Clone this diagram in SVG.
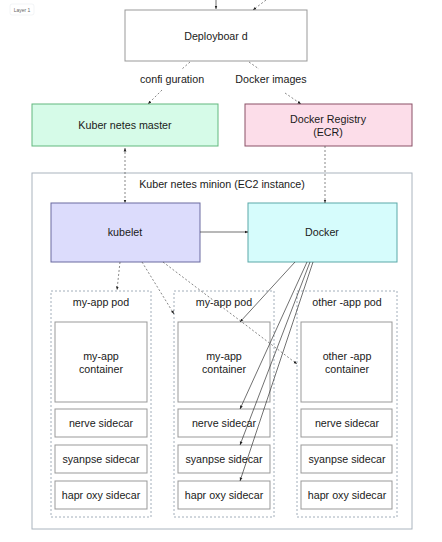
<svg xmlns="http://www.w3.org/2000/svg" width="442" height="542" viewBox="0 0 442 542">
<style>
text{font-family:"Liberation Sans",Arial,sans-serif;font-size:10.7px;fill:#1a1a1a;text-anchor:middle}
.box{fill:#fff;stroke:#999;stroke-width:1}
.pod{fill:none;stroke:#8a9aa8;stroke-width:0.8;stroke-dasharray:2,2}
.ln{fill:none;stroke:#333;stroke-width:0.7}
.dl{fill:none;stroke:#555;stroke-width:0.7;stroke-dasharray:2,2}
</style>
<defs>
<marker id="ah" viewBox="0 0 10 10" refX="10" refY="5" markerWidth="5" markerHeight="5" orient="auto-start-reverse"><path d="M0,1 L10,5 L0,9 z" fill="#222"/></marker>
</defs>
<rect width="442" height="542" fill="#fff"/>
<g id="layer-badge"><rect x="10" y="4" width="24" height="11" rx="2" fill="#fff" stroke="#e4e8ec" stroke-width="0.5"/><text x="22" y="12" style="font-size:5px;fill:#666">Layer 1</text></g>
<g id="deployboard"><rect class="box" x="125" y="10" width="182" height="51"/><text x="216" y="40">Deployboar d</text></g>
<g id="k8s-master"><rect x="32" y="104" width="186" height="42" fill="#d6fbe8" stroke="#62b87e"/><text x="125" y="129">Kuber netes master</text></g>
<g id="registry"><rect x="245" y="104" width="167" height="42" fill="#fcdde9" stroke="#8a5066"/><text x="328" y="123">Docker Registry</text><text x="328" y="136">(ECR)</text></g>
<g id="minion"><rect x="32" y="173" width="380" height="356" fill="#fff" stroke="#aab4be"/><text x="222" y="188">Kuber netes minion (EC2 instance)</text></g>
<g id="kubelet"><rect x="51" y="203" width="149" height="59" fill="#dcdcfc" stroke="#6a6aa0"/><text x="125" y="236">kubelet</text></g>
<g id="docker"><rect x="248" y="203" width="149" height="59" fill="#d6fcfc" stroke="#5aa8a8"/><text x="322" y="236">Docker</text></g>
<g id="pod1"><rect class="pod" x="51" y="291" width="100" height="226"/><text x="101" y="306">my-app pod</text>
<rect class="box" x="55" y="322" width="92" height="80"/><text x="101" y="360">my-app</text><text x="101" y="373">container</text>
<rect class="box" x="55" y="409" width="92" height="28"/><text x="101" y="427">nerve sidecar</text>
<rect class="box" x="55" y="445" width="92" height="28"/><text x="101" y="463">syanpse sidecar</text>
<rect class="box" x="55" y="481" width="92" height="28"/><text x="101" y="499">hapr oxy sidecar</text></g>
<g id="pod2"><rect class="pod" x="174" y="291" width="100" height="226"/><text x="224" y="306">my-app pod</text>
<rect class="box" x="178" y="322" width="92" height="80"/><text x="224" y="360">my-app</text><text x="224" y="373">container</text>
<rect class="box" x="178" y="409" width="92" height="28"/><text x="224" y="427">nerve sidecar</text>
<rect class="box" x="178" y="445" width="92" height="28"/><text x="224" y="463">syanpse sidecar</text>
<rect class="box" x="178" y="481" width="92" height="28"/><text x="224" y="499">hapr oxy sidecar</text></g>
<g id="pod3"><rect class="pod" x="297" y="291" width="100" height="226"/><text x="347" y="306">other -app pod</text>
<rect class="box" x="301" y="322" width="91" height="80"/><text x="347" y="360">other -app</text><text x="347" y="373">container</text>
<rect class="box" x="301" y="409" width="91" height="28"/><text x="347" y="427">nerve sidecar</text>
<rect class="box" x="301" y="445" width="91" height="28"/><text x="347" y="463">syanpse sidecar</text>
<rect class="box" x="301" y="481" width="91" height="28"/><text x="347" y="499">hapr oxy sidecar</text></g>
<g id="connectors">
<line class="ln" x1="216" y1="0" x2="216" y2="9" marker-end="url(#ah)"/>
<line class="dl" x1="266" y1="0" x2="253" y2="10" marker-end="url(#ah)"/>
<line class="dl" x1="190" y1="62" x2="182" y2="69"/>
<text x="172" y="83">confi guration</text>
<line class="dl" x1="162" y1="90" x2="148" y2="104" marker-end="url(#ah)"/>
<line class="dl" x1="249" y1="62" x2="259" y2="69"/>
<text x="271" y="83">Docker images</text>
<line class="dl" x1="285" y1="93" x2="301" y2="104" marker-end="url(#ah)"/>
<line class="dl" x1="125" y1="148" x2="125" y2="203" marker-start="url(#ah)" marker-end="url(#ah)"/>
<line class="dl" x1="325" y1="146" x2="325" y2="203" marker-end="url(#ah)"/>
<line class="ln" x1="200" y1="232" x2="248" y2="232" marker-end="url(#ah)"/>
<line class="dl" x1="120" y1="262" x2="117" y2="290" marker-end="url(#ah)"/>
<line class="dl" x1="142" y1="262" x2="174" y2="314" marker-end="url(#ah)"/>
<line class="dl" x1="163" y1="262" x2="297" y2="364" marker-end="url(#ah)"/>
<line class="ln" x1="295" y1="262" x2="240" y2="322" marker-end="url(#ah)"/>
<line class="ln" x1="307" y1="262" x2="240" y2="409" marker-end="url(#ah)"/>
<line class="ln" x1="310" y1="262" x2="240" y2="445" marker-end="url(#ah)"/>
<line class="ln" x1="313" y1="262" x2="240" y2="481" marker-end="url(#ah)"/>
</g>
</svg>
